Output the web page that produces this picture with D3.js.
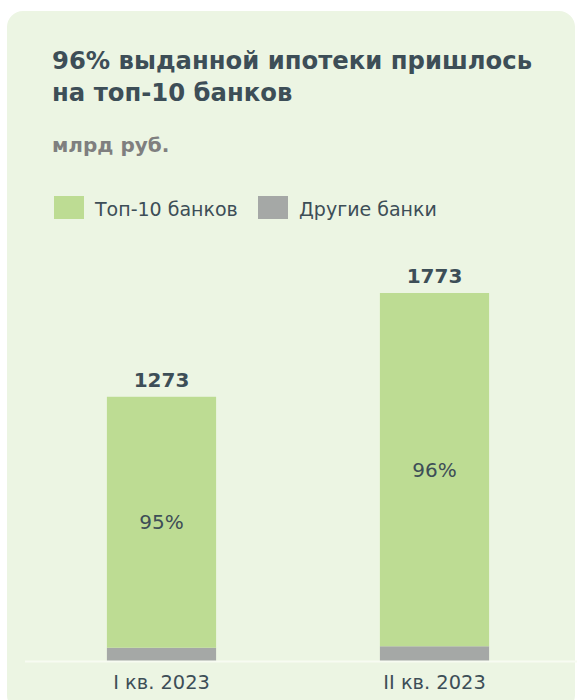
<!DOCTYPE html>
<html><head><meta charset="utf-8">
<script src="https://cdn.jsdelivr.net/npm/d3@7"></script>
<style>html,body{margin:0;padding:0;background:#fff;}svg{display:block;}</style>
</head><body>
<script>
const categories = ["I кв. 2023", "II кв. 2023"];
const top10 = [1209, 1702];
const others = [64, 71];
const totals = [1273, 1773];
const shareLabels = ["95%", "96%"];
const seriesNames = ["Топ-10 банков", "Другие банки"];
const title = ["96% выданной ипотеки пришлось", "на топ-10 банков"];
const unit = "млрд руб.";

const W = 577, H = 700;
const font = "'DejaVu Sans', Verdana, sans-serif";
const textColor = "#3d4e57";
const colors = ["#bddc93", "#a5a8a6"];

const svg = d3.select("body").append("svg").attr("width", W).attr("height", H);
svg.append("rect").attr("x", 7).attr("y", 11).attr("width", 568).attr("height", 700)
  .attr("rx", 16).attr("fill", "#ecf5e3");

const tg = svg.append("g");
tg.selectAll("text.title").data(title).join("text").attr("class","title")
  .attr("x", 52).attr("y", (d,i) => 69 + i*32)
  .attr("font-family", font).attr("font-weight", "bold").attr("font-size", 24.3)
  .attr("fill", textColor).text(d => d);
tg.append("text").attr("x", 52).attr("y", 152)
  .attr("font-family", font).attr("font-weight", "bold").attr("font-size", 20)
  .attr("fill", "#7f7f7f").text(unit);

// legend
const legX = [54, 258];
const lg = svg.append("g");
seriesNames.forEach((n, i) => {
  lg.append("rect").attr("x", legX[i]).attr("y", 196).attr("width", 30).attr("height", 23).attr("fill", colors[i]);
  lg.append("text").attr("x", legX[i] + 41).attr("y", 216).attr("font-family", font)
    .attr("font-size", 19).attr("fill", textColor).text(n);
});

const data = categories.map((c, i) => ({cat: c, top: top10[i], other: others[i], total: totals[i], share: shareLabels[i]}));
const stack = d3.stack().keys(["other", "top"])(data);

const x = d3.scaleBand().domain(categories).range([25, 571]).paddingInner(0.6).paddingOuter(0.3);
const y = d3.scaleLinear().domain([0, d3.max(totals)]).range([661, 293]);

const colorOf = {other: colors[1], top: colors[0]};
svg.append("g").selectAll("g").data(stack).join("g").attr("fill", d => colorOf[d.key])
  .selectAll("rect").data(d => d).join("rect")
  .attr("x", d => x(d.data.cat)).attr("width", x.bandwidth())
  .attr("y", d => y(d[1])).attr("height", d => y(d[0]) - y(d[1]));

// baseline
svg.append("line").attr("x1", 25).attr("x2", 577).attr("y1", y(0) + 0.5).attr("y2", y(0) + 0.5)
  .attr("stroke", "#f7fbf2").attr("stroke-width", 2);

// totals
svg.append("g").selectAll("text").data(data).join("text")
  .attr("x", d => x(d.cat) + x.bandwidth()/2).attr("y", d => y(d.total) - 10)
  .attr("text-anchor", "middle").attr("font-family", font).attr("font-weight", "bold")
  .attr("font-size", 20).attr("fill", textColor).text(d => d.total);

// shares
svg.append("g").selectAll("text").data(data).join("text")
  .attr("x", d => x(d.cat) + x.bandwidth()/2).attr("y", d => (y(d.total) + y(d.other))/2 + 7)
  .attr("text-anchor", "middle").attr("font-family", font)
  .attr("font-size", 20).attr("fill", textColor).text(d => d.share);

// x axis
const xAxis = svg.append("g").attr("transform", `translate(0,${y(0)})`)
  .call(d3.axisBottom(x).tickSize(0).tickPadding(14));
xAxis.select(".domain").remove();
xAxis.selectAll("text").attr("font-family", font).attr("font-size", 19.4).attr("fill", textColor)
  .attr("dy", "0.71em");
</script>
</body></html>
